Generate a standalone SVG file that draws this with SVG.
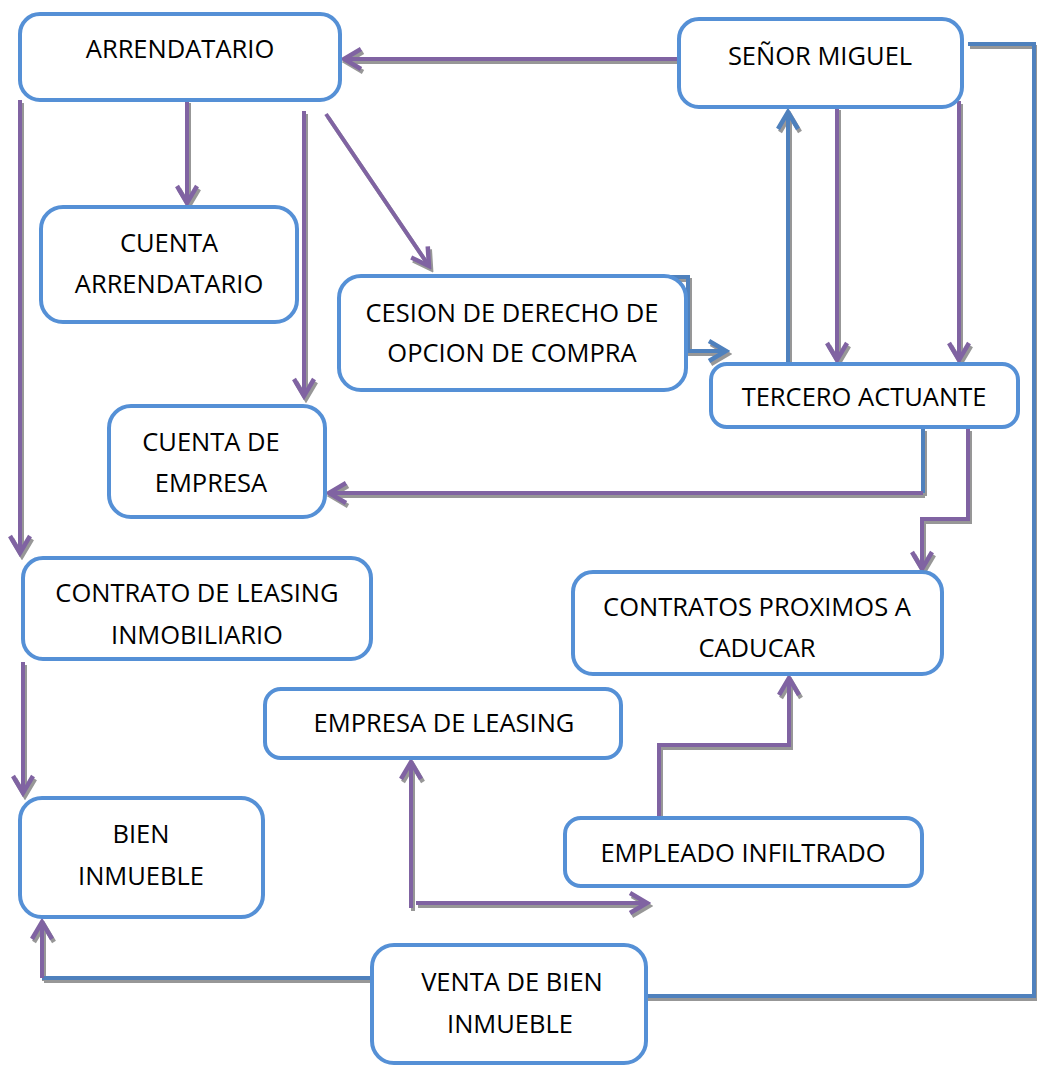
<svg xmlns="http://www.w3.org/2000/svg" width="1037" height="1067" viewBox="0 0 1037 1067">
<style>
.node rect{fill:#fff;stroke:#5590D6;stroke-width:4}
.node text{font-family:"Open Sans","Noto Sans",sans-serif;font-size:25.5px;fill:#000;text-anchor:middle}
.p{fill:none;stroke:#8064A2;stroke-width:4}
.b{fill:none;stroke:#4F81BD;stroke-width:4}
.pa{marker-end:url(#ap)}
.ba{marker-end:url(#ab)}
</style>
<defs>
<filter id="sh" x="-10%" y="-10%" width="120%" height="120%">
<feDropShadow dx="2" dy="3" stdDeviation="0.4" flood-color="#8c8c8c" flood-opacity="0.9"/>
</filter>
<marker id="ap" markerUnits="userSpaceOnUse" viewBox="-22 -15 26 30" markerWidth="26" markerHeight="30" refX="0" refY="0" orient="auto">
<path d="M-17,-10 L0,0 L-17,10" fill="none" stroke="#8064A2" stroke-width="4.5" stroke-linejoin="miter"/>
</marker>
<marker id="ab" markerUnits="userSpaceOnUse" viewBox="-22 -15 26 30" markerWidth="26" markerHeight="30" refX="0" refY="0" orient="auto">
<path d="M-17,-10 L0,0 L-17,10" fill="none" stroke="#4F81BD" stroke-width="4.5" stroke-linejoin="miter"/>
</marker>
</defs>
<g id="connectors" filter="url(#sh)">
<path class="b" d="M372,978 H42"/>
<path class="p pa" d="M42,978 V922"/>
<path class="b" d="M646,996 H1034 V44 H968"/>
<path class="p pa" d="M677,59 H344"/>
<path class="p pa" d="M187,100 V203"/>
<path class="p pa" d="M304,111 V396"/>
<path class="p pa" d="M326,114 L429,266"/>
<path class="p pa" d="M20,100 V553"/>
<path class="p pa" d="M23,662 V793"/>
<path class="b ba" d="M648,277 H688 V351 H726"/>
<path class="b ba" d="M788,364 V112"/>
<path class="p pa" d="M837,107 V360"/>
<path class="p pa" d="M959,101 V360"/>
<path class="b" d="M923,428 V493"/>
<path class="p pa" d="M923,493 H329"/>
<path class="p pa" d="M968,428 V519 H922 V569"/>
<path class="p pa" d="M659,818 V745 H789 V678"/>
<path class="p pa" d="M411,908 V762"/>
<path class="p pa" d="M416,903 H647"/>
</g>
<g id="arrendatario" class="node"><rect x="20" y="14" width="320" height="86" rx="20"/><text x="180" y="58">ARRENDATARIO</text></g>
<g id="senor-miguel" class="node"><rect x="679" y="19" width="283" height="88" rx="20"/><text x="820" y="65">SEÑOR MIGUEL</text></g>
<g id="cuenta-arrendatario" class="node"><rect x="41" y="207" width="256" height="115" rx="22"/><text x="169" y="252">CUENTA</text><text x="169" y="293">ARRENDATARIO</text></g>
<g id="cesion" class="node"><rect x="339" y="276" width="347" height="114" rx="22"/><text x="512" y="322">CESION DE DERECHO DE</text><text x="512" y="362">OPCION DE COMPRA</text></g>
<g id="tercero-actuante" class="node"><rect x="711" y="364" width="307" height="63" rx="16"/><text x="864" y="406">TERCERO ACTUANTE</text></g>
<g id="cuenta-empresa" class="node"><rect x="109" y="406" width="216" height="111" rx="22"/><text x="211" y="451">CUENTA DE</text><text x="211" y="492">EMPRESA</text></g>
<g id="contrato-leasing" class="node"><rect x="23" y="558" width="348" height="101" rx="20"/><text x="197" y="602">CONTRATO DE LEASING</text><text x="197" y="644">INMOBILIARIO</text></g>
<g id="contratos-proximos" class="node"><rect x="573" y="572" width="369" height="102" rx="20"/><text x="757" y="616">CONTRATOS PROXIMOS A</text><text x="757" y="657">CADUCAR</text></g>
<g id="empresa-leasing" class="node"><rect x="265" y="689" width="356" height="69" rx="16"/><text x="444" y="732">EMPRESA DE LEASING</text></g>
<g id="bien-inmueble" class="node"><rect x="20" y="798" width="243" height="119" rx="22"/><text x="141" y="843">BIEN</text><text x="141" y="885">INMUEBLE</text></g>
<g id="empleado-infiltrado" class="node"><rect x="565" y="818" width="357" height="68" rx="16"/><text x="743" y="862">EMPLEADO INFILTRADO</text></g>
<g id="venta-bien" class="node"><rect x="372" y="945" width="274" height="118" rx="22"/><text x="512" y="991">VENTA DE BIEN</text><text x="510" y="1033">INMUEBLE</text></g>
</svg>
